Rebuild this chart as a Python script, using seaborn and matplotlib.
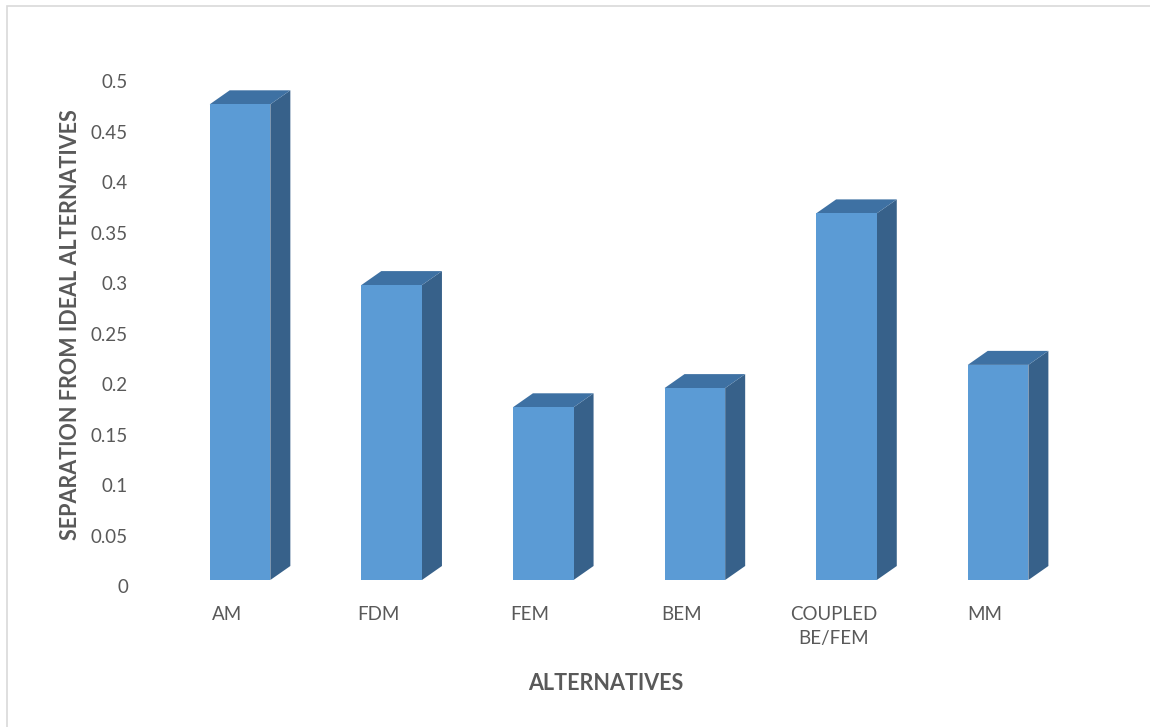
import matplotlib
matplotlib.use("Agg")
import matplotlib.pyplot as plt
from matplotlib.patches import Polygon, Rectangle
from matplotlib.transforms import ScaledTranslation
import seaborn as sns

# Separation of each modelling alternative from the ideal solution
categories = ["AM", "FDM", "FEM", "BEM", "COUPLED\nBE/FEM", "MM"]
separation = [0.471, 0.292, 0.171, 0.190, 0.363, 0.213]
y_ticks = [0, 0.05, 0.1, 0.15, 0.2, 0.25, 0.3, 0.35, 0.4, 0.45, 0.5]
y_tick_labels = ["0", "0.05", "0.1", "0.15", "0.2", "0.25", "0.3", "0.35", "0.4", "0.45", "0.5"]

FRONT = "#5B9BD5"
TOP = "#3E71A3"
SIDE = "#37618A"
TEXT = "#595959"

sns.set_theme(style="white")
plt.rcParams["font.family"] = ["Lato", "DejaVu Sans"]

fig = plt.figure(figsize=(11.5, 7.27), dpi=100)
ax = fig.add_axes([0.1428, 0.2022, 0.791, 0.6946])

sns.barplot(x=categories, y=separation, color=FRONT, saturation=1,
            width=0.4, ax=ax, edgecolor="none", linewidth=0)

ax.set_xlim(-0.5, len(categories) - 0.5)
ax.set_ylim(0, 0.5)

# Depth of the extruded faces, expressed in pixels and converted to data units
ax_w_px = 0.791 * 1150
ax_h_px = 0.6946 * 727
dx = 20 / (ax_w_px / len(categories))
dy = 14 / (ax_h_px / 0.5)

for bar in list(ax.patches):
    x0 = bar.get_x()
    w = bar.get_width()
    h = bar.get_height()
    side = Polygon([(x0 + w, 0), (x0 + w + dx, dy), (x0 + w + dx, h + dy), (x0 + w, h)],
                   closed=True, facecolor=SIDE, edgecolor="none", clip_on=False, zorder=3)
    top = Polygon([(x0, h), (x0 + w, h), (x0 + w + dx, h + dy), (x0 + dx, h + dy)],
                  closed=True, facecolor=TOP, edgecolor="none", clip_on=False, zorder=3)
    ax.add_patch(side)
    ax.add_patch(top)
    bar.set_zorder(4)

for s in ax.spines.values():
    s.set_visible(False)

ax.set_yticks(y_ticks)
ax.set_yticklabels(y_tick_labels)
ax.tick_params(axis="y", length=0, pad=26, labelsize=13.5, labelcolor=TEXT)
ax.tick_params(axis="x", length=0, pad=19, labelsize=13.5, labelcolor=TEXT)

for lab in ax.get_yticklabels():
    lab.set_transform(lab.get_transform() + ScaledTranslation(0, -6 / 100, fig.dpi_scale_trans))
for lab in ax.get_xticklabels():
    lab.set_multialignment("center")
    lab.set_verticalalignment("top")
    lab.set_linespacing(1.5)
    lab.set_transform(lab.get_transform() + ScaledTranslation(-13 / 100, 0, fig.dpi_scale_trans))

ax.set_xlabel("ALTERNATIVES", fontsize=15.5, fontweight="bold", color=TEXT)
ax.xaxis.set_label_coords(0.485, -0.204)
ax.xaxis.label.set_verticalalignment("center")

ax.set_ylabel("SEPARATION FROM IDEAL ALTERNATIVES", fontsize=15.5, fontweight="bold", color=TEXT)
ax.yaxis.set_label_coords(-0.103, 0.505)
ax.yaxis.label.set_verticalalignment("center")

# Chart area border
fig.patches.append(Rectangle((7 / 1150, -0.05), 1.2, (727 - 6) / 727 + 0.05,
                             transform=fig.transFigure, fill=False,
                             edgecolor="#D9D9D9", linewidth=1.2, zorder=0))

fig.savefig("out.png", dpi=100)
